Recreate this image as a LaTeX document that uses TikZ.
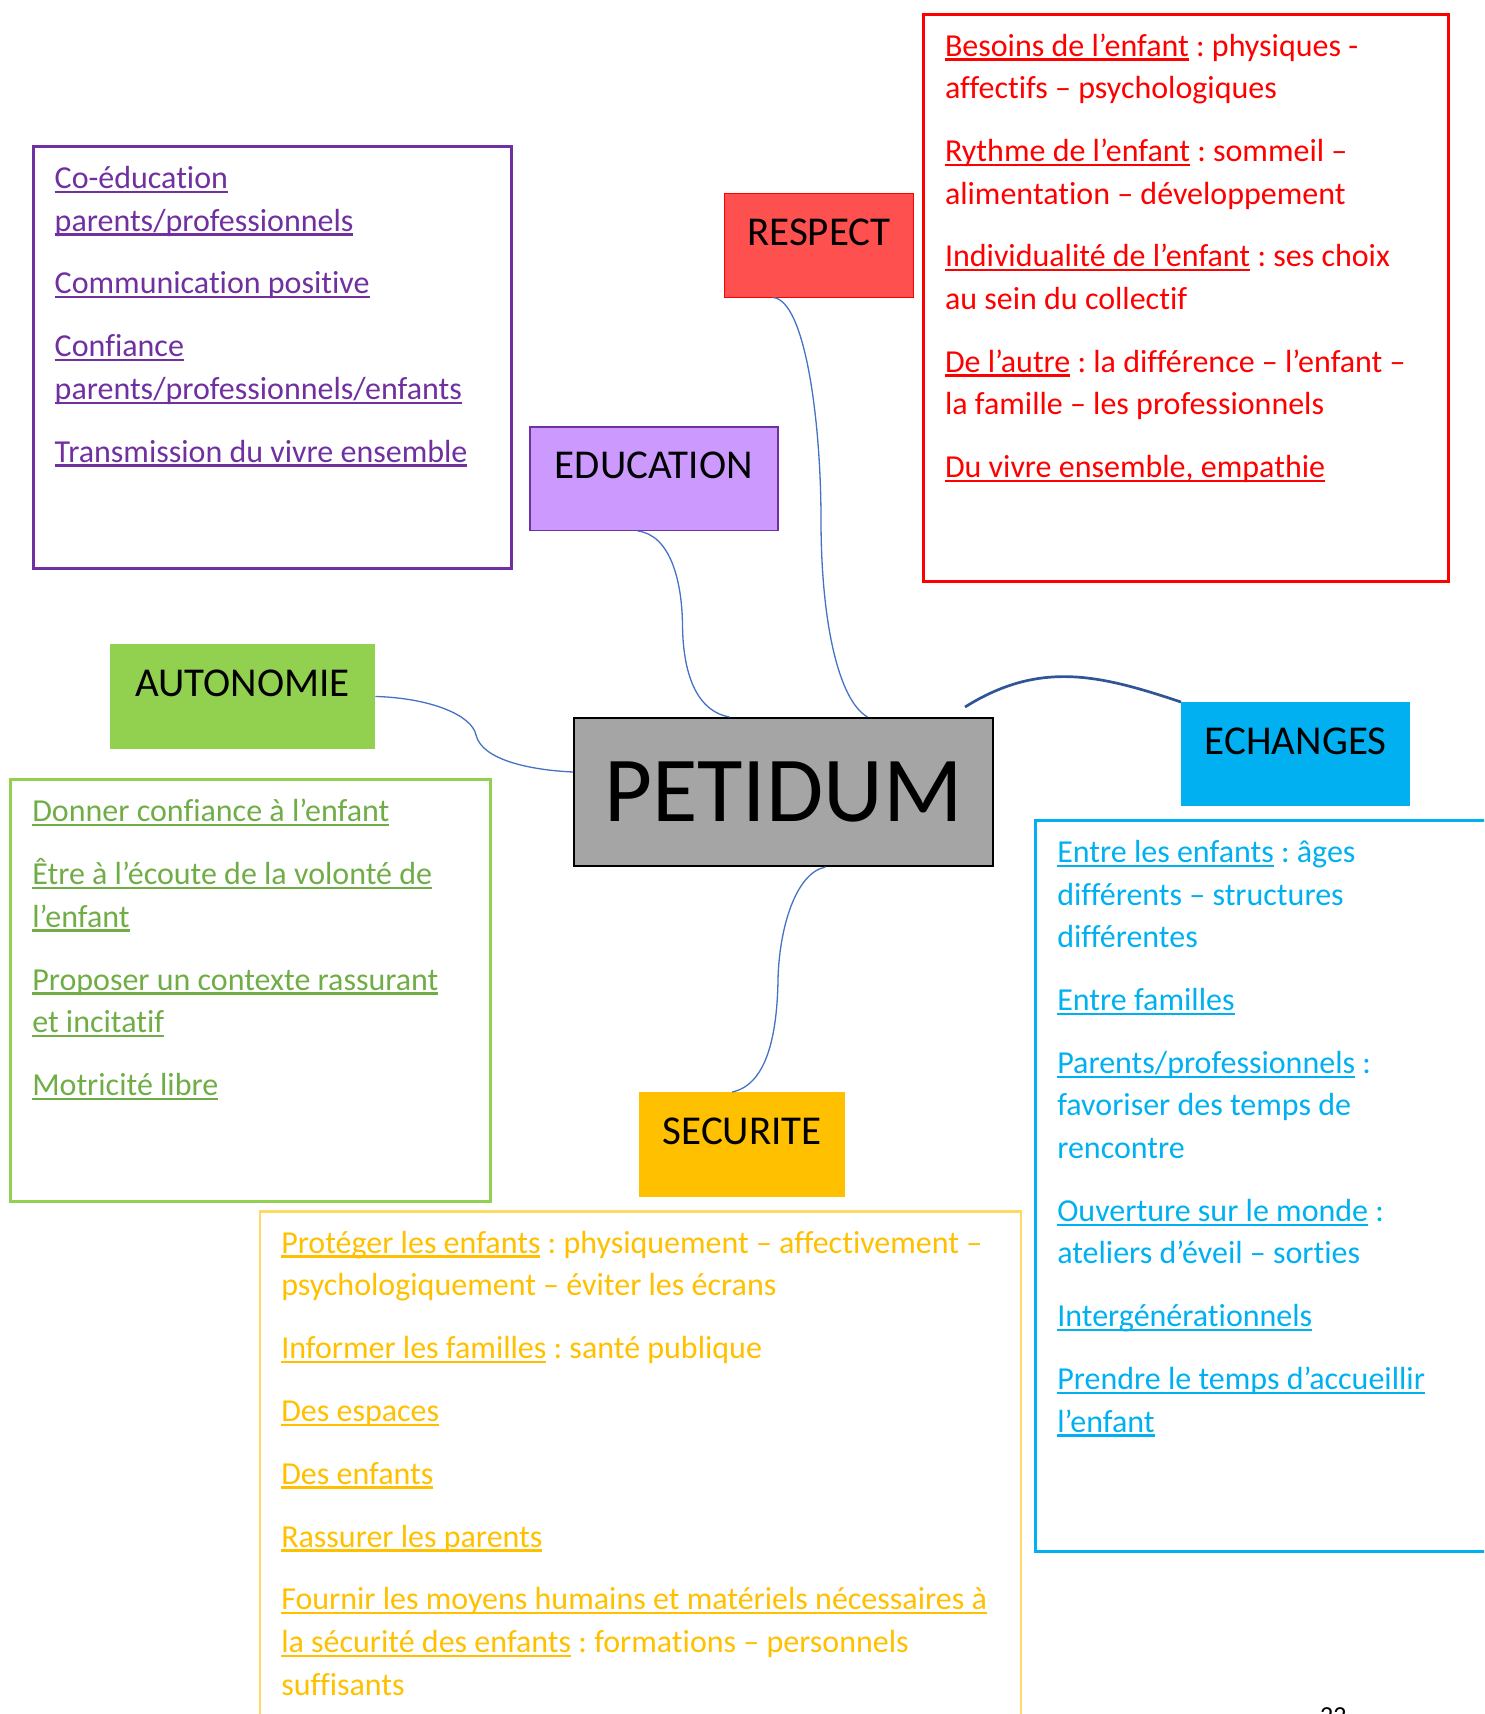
\documentclass[tikz,border=0pt]{standalone}
\usepackage{fontspec}
\setmainfont[Ligatures=CommonOff]{Carlito}
\newsavebox\soulbox
\newcommand{\souligne}[1]{\leavevmode\sbox\soulbox{#1}\rlap{\rule[-4.5pt]{\wd\soulbox}{2.3pt}}\usebox\soulbox}
\newcommand{\reglagenote}{\raggedright\frenchspacing\spaceskip=0pt\xspaceskip=0pt\setlength{\parskip}{20.2pt}}
\definecolor{rouge}{HTML}{FF0000}
\definecolor{rougeclair}{HTML}{FF5050}
\definecolor{violetfonce}{HTML}{7030A0}
\definecolor{violetclair}{HTML}{CC99FF}
\definecolor{vertclair}{HTML}{92D050}
\definecolor{vertfonce}{HTML}{70AD47}
\definecolor{bleuciel}{HTML}{00B0F0}
\definecolor{jaune}{HTML}{FFC000}
\definecolor{jauneclair}{HTML}{FFD966}
\definecolor{gris}{HTML}{A5A5A5}
\definecolor{lienbleu}{HTML}{4472C4}
\definecolor{lienfonce}{HTML}{2F5597}
\tikzset{
  tag/.style={inner sep=0pt, anchor=north west, text height=52pt, text depth=51.5pt, font=\fontsize{41}{41}\selectfont},
  note/.style={inner xsep=21.5pt, inner ysep=0pt, anchor=north west, text height=42pt, line width=3pt,
    font=\fontsize{32}{42.6}\selectfont},
  link/.style={draw=lienbleu, line width=1.3pt}
}

\begin{document}
\begin{tikzpicture}[x=1pt, y=-1pt]
			%%%%% START %%%%%
			\useasboundingbox (0,0) rectangle (1484,1714);
			\clip (0,0) rectangle (1484,1714);
			
			\node[note, draw=rouge, text=rouge, text width=482pt, text depth=525.5pt] (besoins) at (922,12.5) {\reglagenote
				\souligne{Besoins de l’enfant} : physiques -\\ affectifs – psychologiques\par
				\souligne{Rythme de l’enfant} : sommeil –\\ alimentation – développement\par
				\souligne{Individualité de l’enfant} : ses choix\\ au sein du collectif\par
				\souligne{De l’autre} : la différence – l’enfant –\\ la famille – les professionnels\par
				\souligne{Du vivre ensemble, empathie}};
			
			\node[note, draw=violetfonce, text=violetfonce, text width=435.6pt, text depth=379.7pt] (coeducation) at (31.7,145) {\reglagenote
				\souligne{Co-éducation}\\ \souligne{parents/professionnels}\par
				\souligne{Communication positive}\par
				\souligne{Confiance}\\ \souligne{parents/professionnels/enfants}\par
				\souligne{Transmission du vivre ensemble}};
			
			\node[note, draw=vertclair, text=vertfonce, text width=436.4pt, text depth=379.7pt] (confiance) at (9.3,778.3) {\reglagenote
				\souligne{Donner confiance à l’enfant}\par
				\souligne{Être à l’écoute de la volonté de}\\ \souligne{l’enfant}\par
				\souligne{Proposer un contexte rassurant}\\ \souligne{et incitatif}\par
				\souligne{Motricité libre}};
			
			\node[note, draw=bleuciel, text=bleuciel, text width=457pt, text depth=689pt] (rencontres) at (1034.3,819) {\reglagenote
				\souligne{Entre les enfants} : âges\\ différents – structures\\ différentes\par
				\souligne{Entre familles}\par
				\souligne{Parents/professionnels} :\\ favoriser des temps de\\ rencontre\par
				\souligne{Ouverture sur le monde} :\\ ateliers d’éveil – sorties\par
				\souligne{Intergénérationnels}\par
				\souligne{Prendre le temps d’accueillir}\\ \souligne{l’enfant}};
			
			\node[note, draw=jauneclair, line width=2.5pt, text=jaune, text width=718pt, text depth=508pt] (proteger) at (258.5,1210) {\reglagenote
				\souligne{Protéger les enfants} : physiquement – affectivement –\\ psychologiquement – éviter les écrans\par
				\souligne{Informer les familles} : santé publique\par
				\souligne{Des espaces}\par
				\souligne{Des enfants}\par
				\souligne{Rassurer les parents}\par
				\souligne{Fournir les moyens humains et matériels nécessaires à}\\ \souligne{la sécurité des enfants} : formations – personnels\\ suffisants};
			
			\node[tag, fill=rougeclair, draw=rouge, line width=1pt, minimum width=189pt] (respect) at (724,193) {RESPECT};
			\node[tag, fill=violetclair, draw=violetfonce, line width=1.5pt, minimum width=248pt] (education) at (529,426) {EDUCATION};
			\node[tag, fill=vertclair, minimum width=265pt, text depth=52.5pt] (autonomie) at (110,644) {AUTONOMIE};
			\node[tag, fill=bleuciel, minimum width=229pt] (echanges) at (1181,702) {ECHANGES};
			\node[tag, fill=jaune, minimum width=206pt, text depth=52.5pt] (securite) at (639,1092) {SECURITE};
			
			\node[draw=black, line width=2pt, fill=gris, minimum width=419pt, minimum height=148pt, inner sep=0pt,
				anchor=north west, font=\fontsize{93}{93}\selectfont] (petidum) at (573,717) {PETIDUM};
			
			\draw[link] ([xshift=-46pt]respect.south) .. controls (805,300) and (821,420) .. (821,520)
				.. controls (821,620) and (838,700) .. ([xshift=84pt]petidum.north);
			\draw[link] ([xshift=-16pt]education.south) .. controls (670,535) and (682,580) .. (682.5,625)
				.. controls (683,680) and (700,712) .. ([xshift=-54pt]petidum.north);
			\draw[link] (autonomie.east) .. controls (430,698) and (472,715) .. (476,735)
				.. controls (482,760) and (530,770) .. ([yshift=20pt]petidum.west);
			\draw[link, draw=lienfonce, line width=2.7pt] ([shift={(-29pt,10pt)}]petidum.north east)
				.. controls (1040,660) and (1100,675) .. (echanges.north west);
			\draw[link] ([xshift=42pt]petidum.south) .. controls (795,873) and (779,930) .. (778,980)
				.. controls (777,1040) and (765,1085) .. ([xshift=-10pt]securite.north);
			
			\node[font=\fontsize{26}{26}\selectfont, anchor=base west, inner sep=0pt] (page) at (1320,1724.4) {22};
			
			%%%%% END %%%%%
\end{tikzpicture}
\end{document}
